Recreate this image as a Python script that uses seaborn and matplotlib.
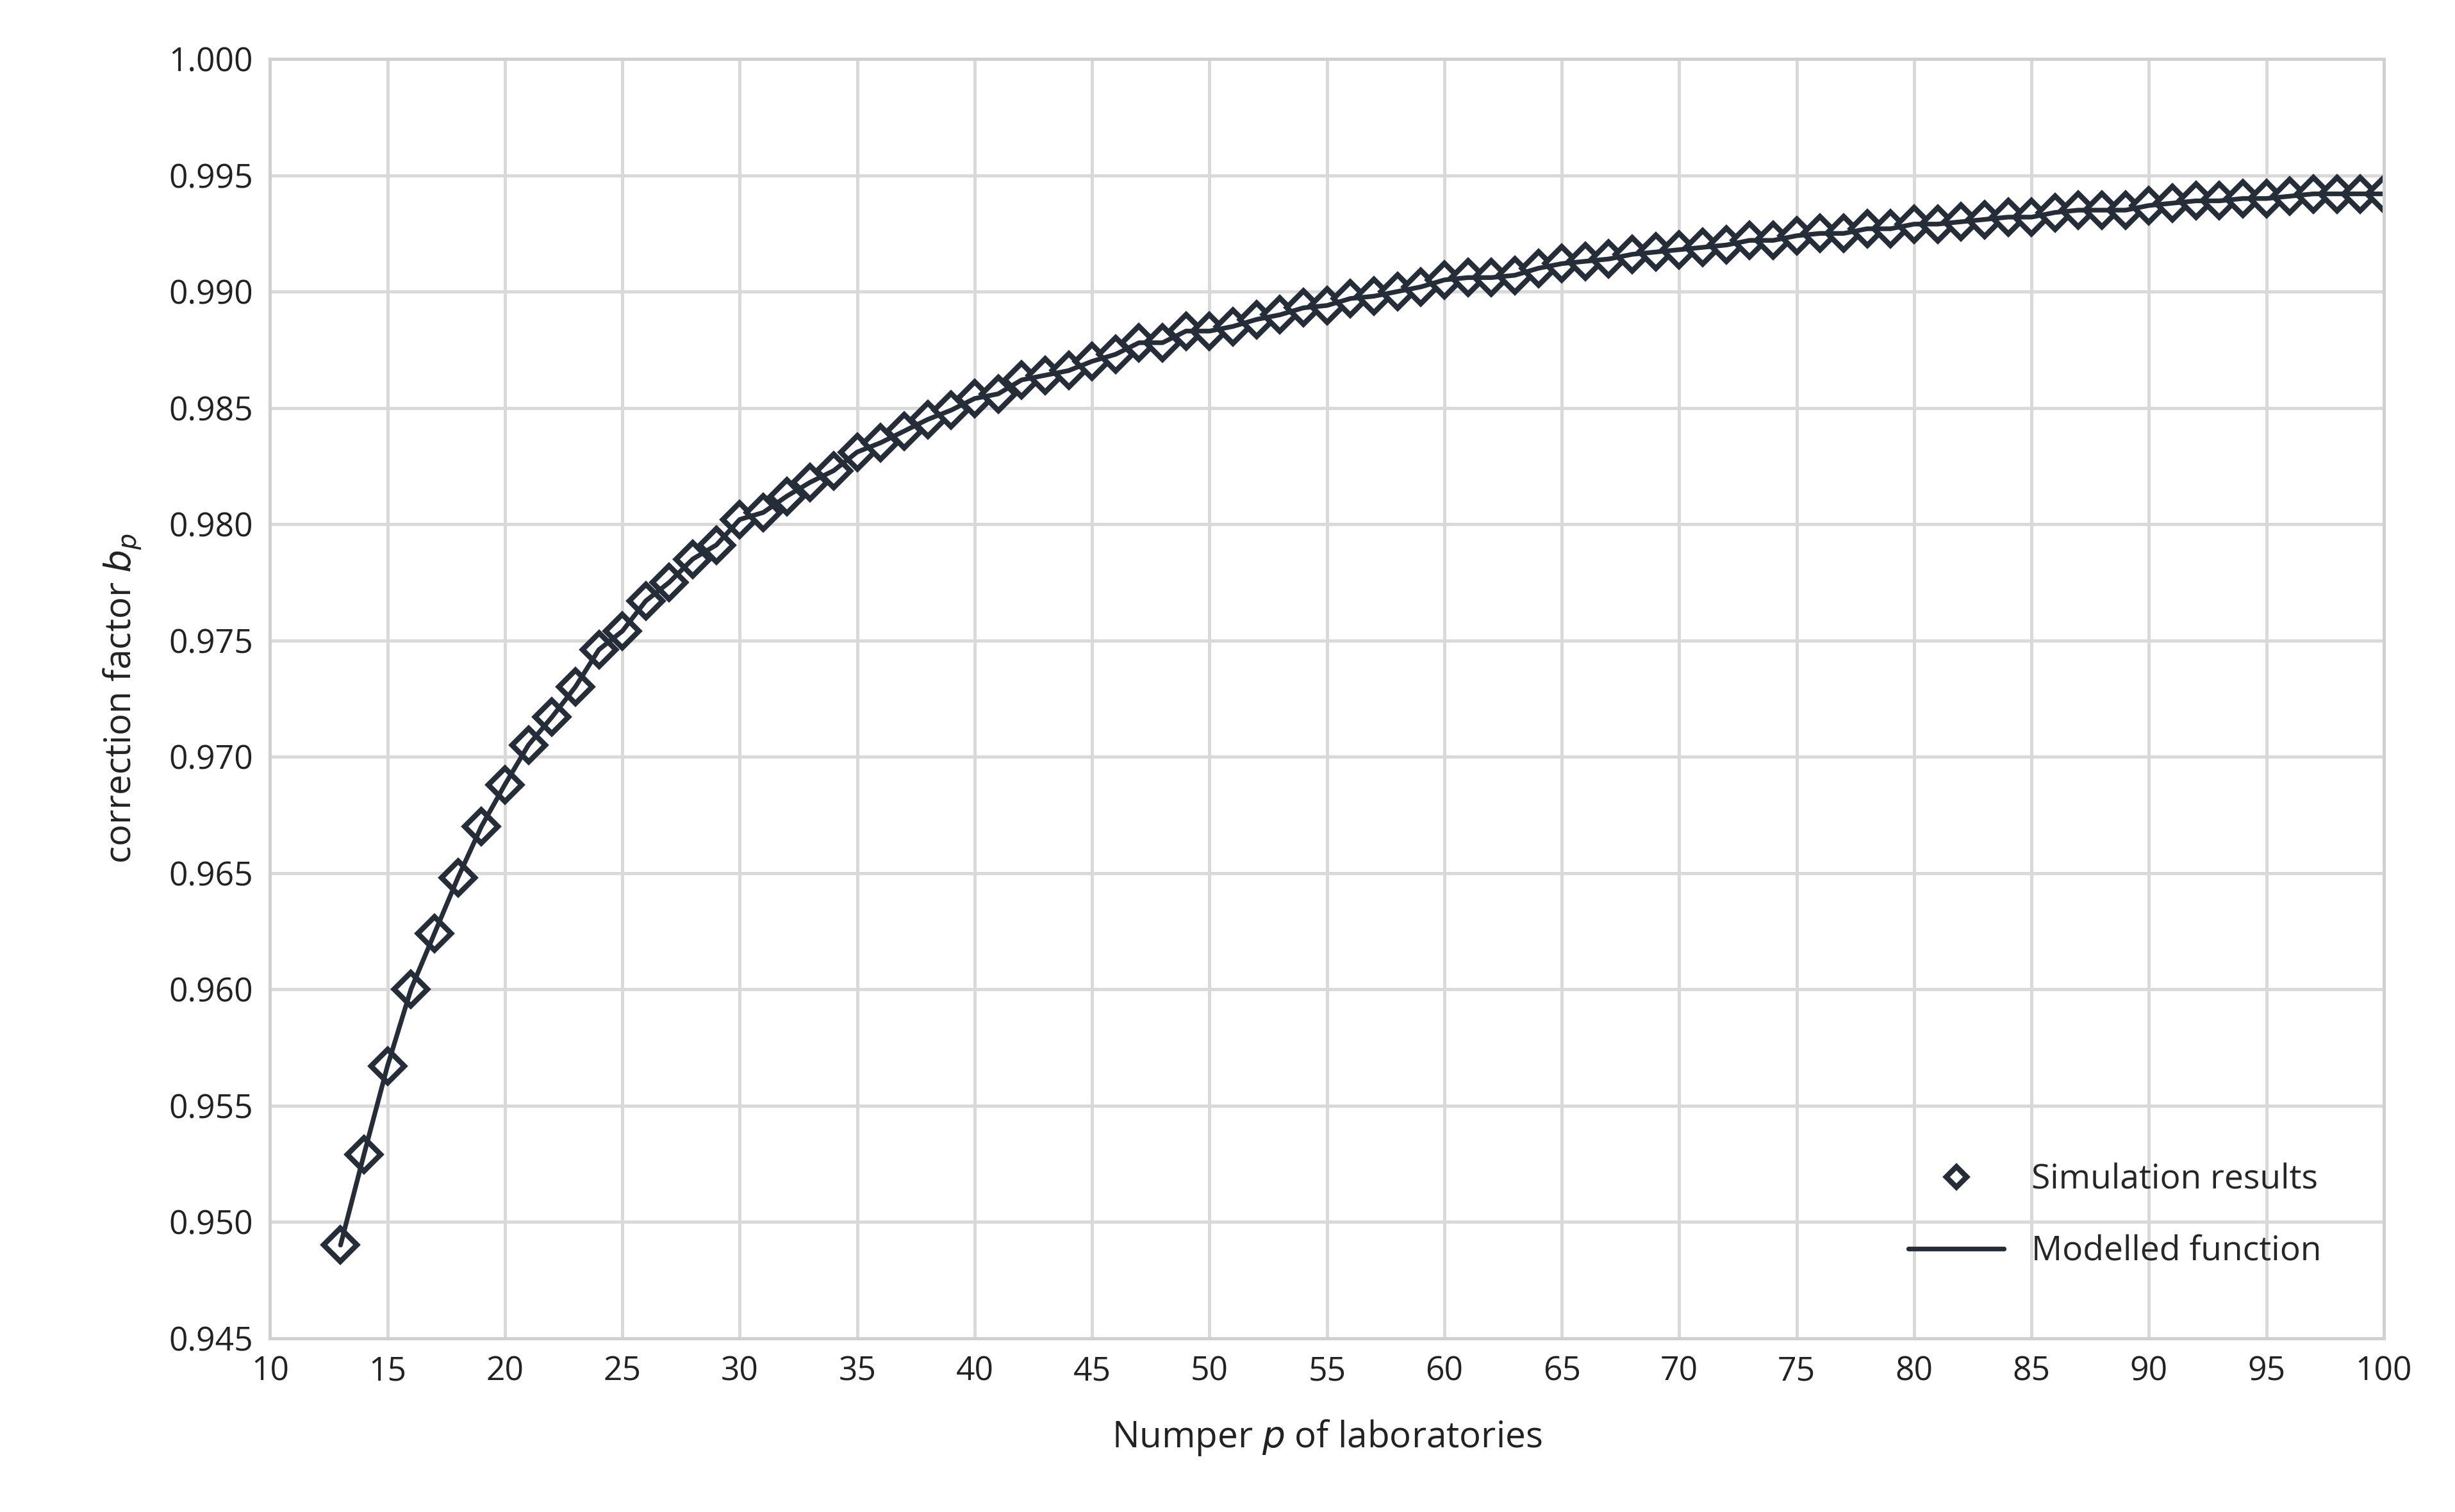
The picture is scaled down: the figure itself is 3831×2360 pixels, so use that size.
import numpy as np
import pandas as pd
import seaborn as sns
import matplotlib.pyplot as plt

# number of laboratories p
labs = list(range(13, 101))
# simulated correction factor b_p
sim_bp = [0.9490, 0.9529, 0.9567, 0.9600, 0.9624, 0.9648, 0.9670, 0.9688, 0.9705, 0.9717,
          0.9730, 0.9746, 0.9754, 0.9767, 0.9775, 0.9785, 0.9791, 0.9802, 0.9805, 0.9812,
          0.9818, 0.9823, 0.9831, 0.9835, 0.9840, 0.9845, 0.9849, 0.9854, 0.9856, 0.9862,
          0.9864, 0.9866, 0.9870, 0.9873, 0.9878, 0.9878, 0.9883, 0.9883, 0.9885, 0.9888,
          0.9890, 0.9893, 0.9894, 0.9897, 0.9898, 0.9900, 0.9902, 0.9905, 0.9906, 0.9906,
          0.9907, 0.9910, 0.9912, 0.9913, 0.9914, 0.9916, 0.9917, 0.9918, 0.9919, 0.9920,
          0.9922, 0.9922, 0.9924, 0.9925, 0.9925, 0.9927, 0.9927, 0.9929, 0.9929, 0.9930,
          0.9931, 0.9932, 0.9932, 0.9934, 0.9935, 0.9935, 0.9935, 0.9937, 0.9938, 0.9939,
          0.9939, 0.9940, 0.9940, 0.9941, 0.9942, 0.9942, 0.9942, 0.9942]
# modelled function (follows the simulation points)
model_bp = list(sim_bp)

df = pd.DataFrame({"p": labs, "sim": sim_bp, "model": model_bp})

sns.set_theme(style="whitegrid")
plt.rcParams['font.family'] = ['Open Sans', 'DejaVu Sans']

color = "#252d38"
fig = plt.figure(figsize=(3831 / 240, 2360 / 240), dpi=240)
ax = fig.add_axes([0.110, 0.115, 0.861, 0.846])

sns.lineplot(data=df, x="p", y="sim", ax=ax, color=color, lw=0, marker="D",
             markersize=11, markerfacecolor="white", markeredgecolor=color,
             markeredgewidth=2.5, label="Simulation results")
sns.lineplot(data=df, x="p", y="model", ax=ax, color=color, lw=2.2,
             label="Modelled function")

ax.set_xlim(10, 100)
ax.set_ylim(0.945, 1.000)
ax.set_xticks(np.arange(10, 101, 5))
ax.set_yticks(np.arange(0.945, 1.0001, 0.005))
ax.yaxis.set_major_formatter(plt.FuncFormatter(lambda v, _: f"{v:.3f}"))
ax.tick_params(labelsize=15.5, colors="#222222", length=0, pad=8)
for s in ax.spines.values():
    s.set_visible(True)
    s.set_color("#d0d0d0")
    s.set_linewidth(1.5)
ax.grid(True, color="#d9d9d9", lw=1.5)
ax.set_facecolor("white")

ax.set_xlabel("Numper $p$ of laboratories", fontsize=17, labelpad=14, color="#222222")
ax.set_ylabel("correction factor $b_p$", fontsize=17, labelpad=12, color="#222222")

leg = ax.legend(loc="lower right", frameon=False, fontsize=16, bbox_to_anchor=(0.985, 0.03),
                handlelength=2.8, labelspacing=1.1, markerscale=0.6)

fig.savefig("out.png", dpi=240)
